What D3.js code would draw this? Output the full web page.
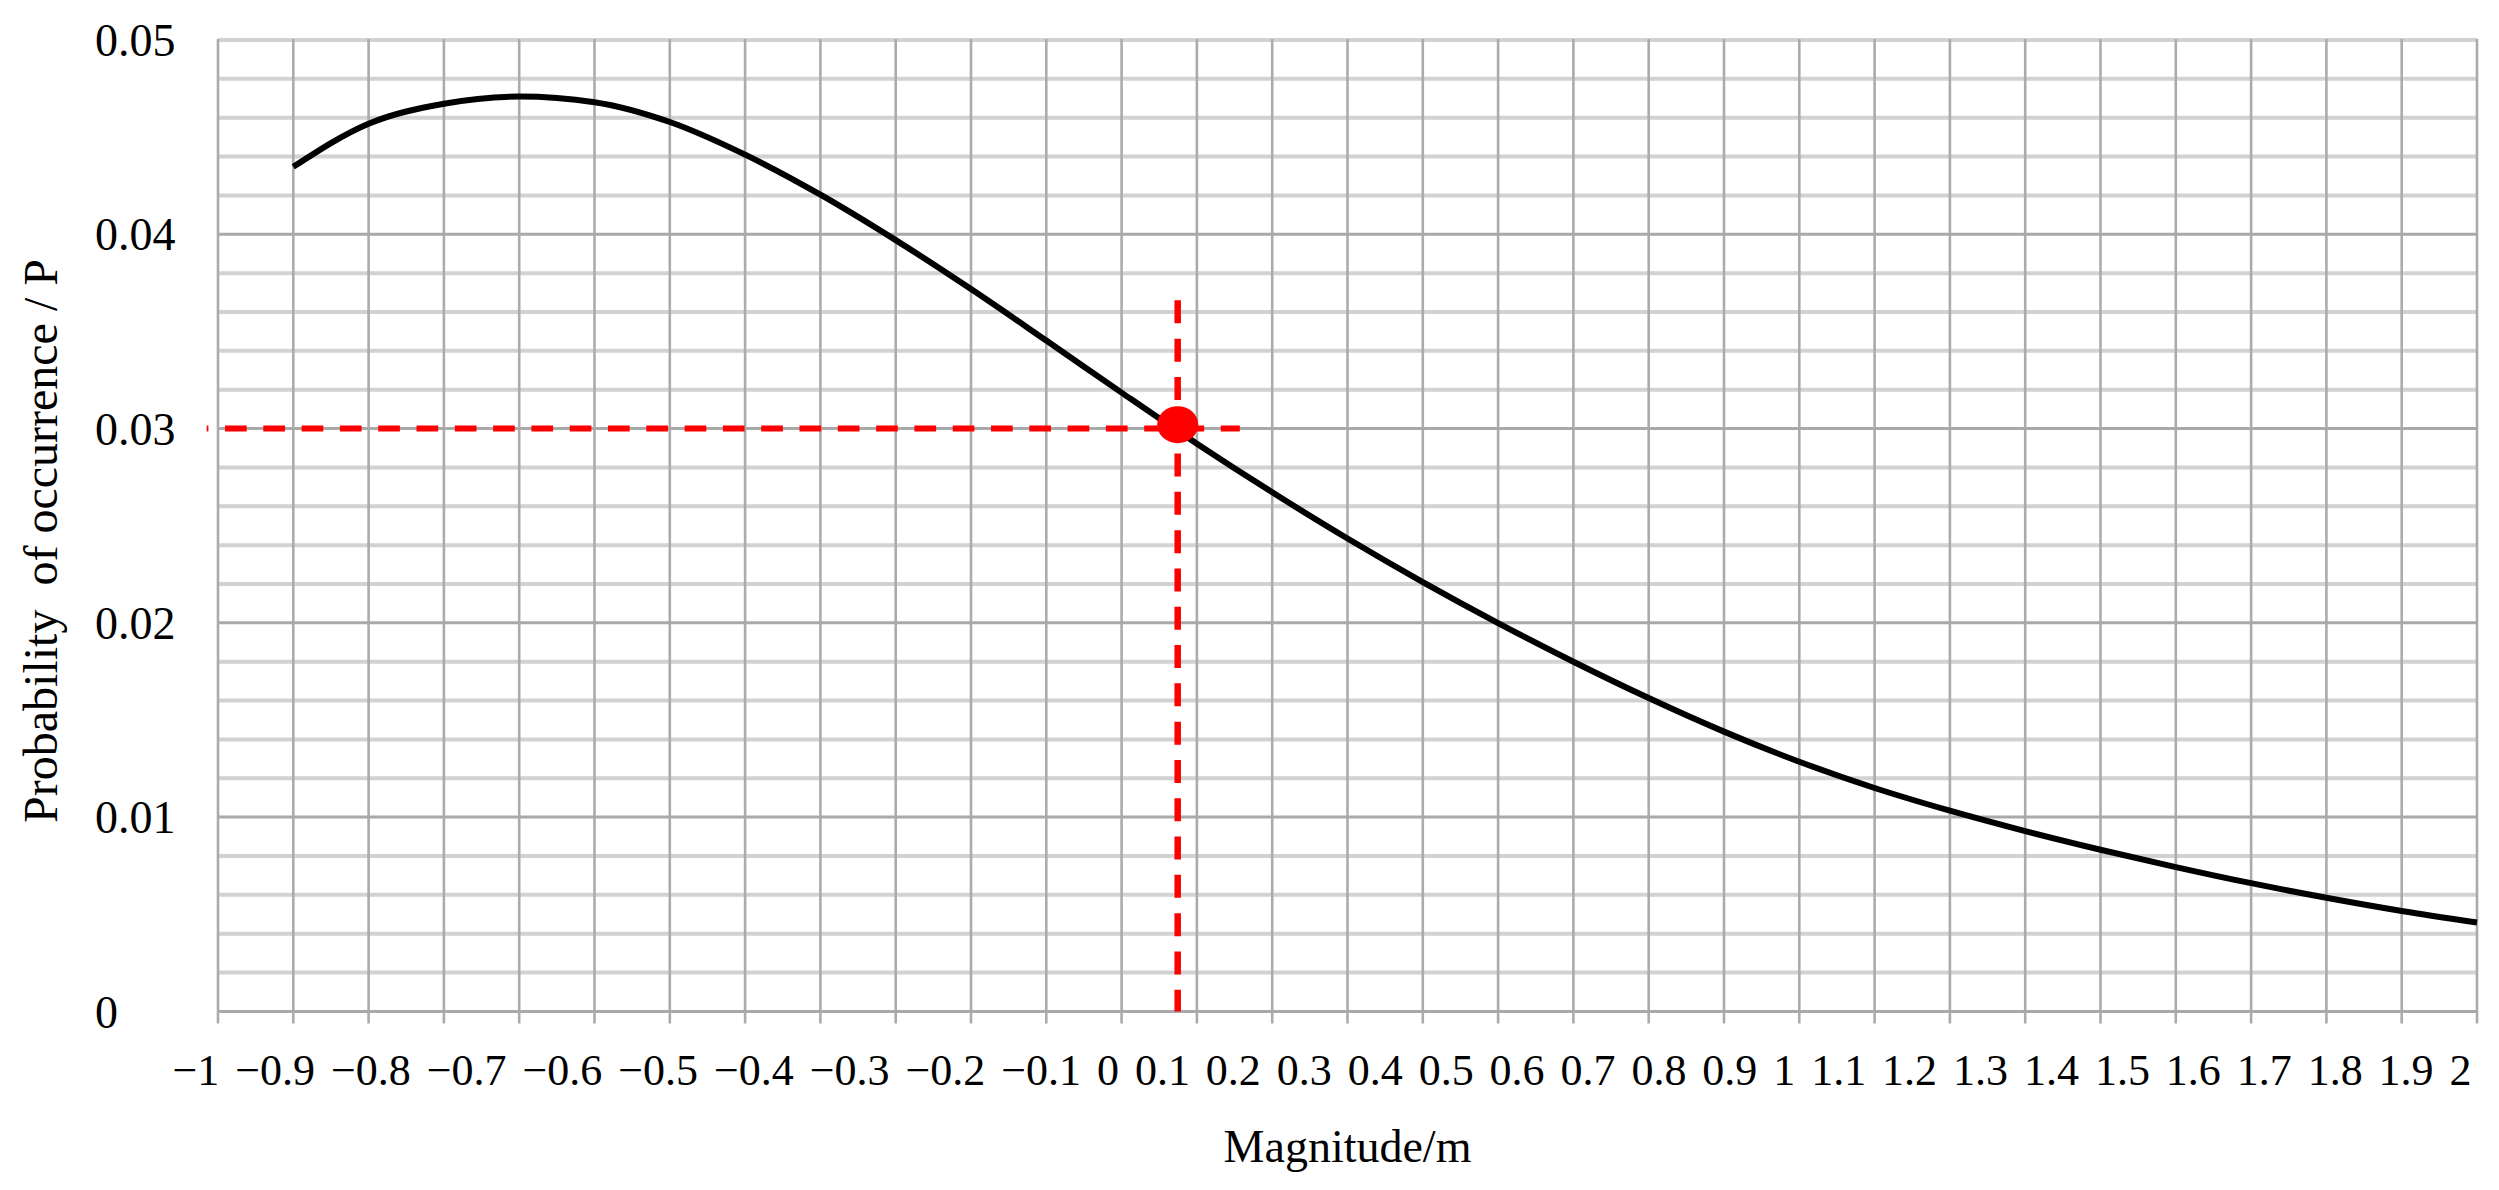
<!DOCTYPE html>
<html>
<head>
<meta charset="utf-8">
<script src="https://cdn.jsdelivr.net/npm/d3@7"></script>
<style>
html,body{margin:0;padding:0;background:#ffffff;}
svg{display:block;}
</style>
</head>
<body>
<svg id="chart" width="2499" height="1190"></svg>
<script>
// ---------------- data ----------------
const magnitude   = [-0.9,-0.8,-0.7,-0.6,-0.5,-0.4,-0.3,-0.2,-0.1,0.0,0.1,0.2,0.3,0.4,0.5,0.6,0.7,0.8,0.9,1.0,1.1,1.2,1.3,1.4,1.5,1.6,1.7,1.8,1.9,2.0];
const probability = [0.04347,0.04569,0.04672,0.04709,0.04680,0.04578,0.04410,0.04204,0.03970,0.03718,0.03453,0.03185,0.02922,0.02672,0.02434,0.02210,0.01999,0.01800,0.01613,0.01440,0.01285,0.01150,0.01033,0.00928,0.00832,0.00743,0.00660,0.00585,0.00517,0.00458];

const xTickValues = [-1,-0.9,-0.8,-0.7,-0.6,-0.5,-0.4,-0.3,-0.2,-0.1,0,0.1,0.2,0.3,0.4,0.5,0.6,0.7,0.8,0.9,1,1.1,1.2,1.3,1.4,1.5,1.6,1.7,1.8,1.9,2];
const xTickLabels = ["\u22121","\u22120.9","\u22120.8","\u22120.7","\u22120.6","\u22120.5","\u22120.4","\u22120.3","\u22120.2","\u22120.1","0","0.1","0.2","0.3","0.4","0.5","0.6","0.7","0.8","0.9","1","1.1","1.2","1.3","1.4","1.5","1.6","1.7","1.8","1.9","2"];
const yTickValues = [0,0.01,0.02,0.03,0.04,0.05];
const yTickLabels = ["0","0.01","0.02","0.03","0.04","0.05"];

const markerX = [0.2745];
const markerY = [0.0302];
const hGuideX = [-1.015, 0.357];
const hGuideY = [0.030, 0.030];
const vGuideX = [0.2745, 0.2745];
const vGuideY = [0.0366, 0];

const xTitle = "Magnitude/m";
const yTitle = "Probability  of occurrence / P";

// ---------------- layout ----------------
const svg = d3.select("#chart");
const FONT = "'Liberation Serif','Times New Roman',Times,serif";
const x = d3.scaleLinear().domain([-1, 2]).range([218, 2477]);
const y = d3.scaleLinear().domain([0, 0.05]).range([1011.4, 40]);

const grid = svg.append("g");
// minor horizontal grid
const minorY = y.ticks(25).filter(v => !yTickValues.slice(0,5).some(t => Math.abs(t - v) < 1e-9));
grid.selectAll("line.hminor").data(minorY).enter().append("line")
  .attr("x1", x(-1)).attr("x2", x(2))
  .attr("y1", d => y(d)).attr("y2", d => y(d))
  .attr("stroke", "#d2d2d2").attr("stroke-width", 4);
// vertical grid (with tick extension below axis)
grid.selectAll("line.v").data(xTickValues).enter().append("line")
  .attr("x1", d => x(d)).attr("x2", d => x(d))
  .attr("y1", y(0.05) - 1).attr("y2", y(0) + 12)
  .attr("stroke", "#ababab").attr("stroke-width", 2.6);
// major horizontal grid
grid.selectAll("line.hmajor").data(yTickValues.slice(0,5)).enter().append("line")
  .attr("x1", x(-1)).attr("x2", x(2))
  .attr("y1", d => y(d)).attr("y2", d => y(d))
  .attr("stroke", "#a9a9a9").attr("stroke-width", 3);

// ---------------- x axis labels (typeset as a flowing row) ----------------
const xAxis = d3.axisBottom(x).tickValues(xTickValues)
  .tickFormat((d, i) => xTickLabels[i]).tickSize(0);
const gx = svg.append("g").attr("transform", `translate(0,${y(0)})`).call(xAxis);
gx.select(".domain").remove();
const xt = gx.selectAll(".tick text")
  .attr("font-family", FONT).attr("font-size", 44).attr("fill", "#000")
  .attr("text-anchor", "start").attr("dy", 0).attr("y", 1085 - y(0));
const widths = xt.nodes().map(n => n.getComputedTextLength());
const startX = x(-1) - 46, endX = x(2) - 6;
const sumW = d3.sum(widths);
const gap = (endX - startX - sumW) / (widths.length - 1);
let cursor = startX;
xt.each(function(d, i) {
  d3.select(this).attr("x", cursor - x(d));
  cursor += widths[i] + gap;
});

// ---------------- y axis labels ----------------
const yAxis = d3.axisLeft(y).tickValues(yTickValues)
  .tickFormat((d, i) => yTickLabels[i]).tickSize(0);
const gy = svg.append("g").attr("transform", `translate(${x(-1)},0)`).call(yAxis);
gy.select(".domain").remove();
gy.selectAll(".tick text")
  .attr("font-family", FONT).attr("font-size", 46).attr("fill", "#000")
  .attr("text-anchor", "start").attr("x", 95 - x(-1)).attr("dy", "0.34em");

// ---------------- titles ----------------
svg.append("text")
  .attr("x", (x(-1) + x(2)) / 2).attr("y", 1162)
  .attr("text-anchor", "middle").attr("font-family", FONT).attr("font-size", 46)
  .text(xTitle);
svg.append("text")
  .attr("transform", "translate(57,541) rotate(-90)")
  .attr("text-anchor", "middle").attr("font-family", FONT).attr("font-size", 48)
  .style("white-space", "pre")
  .text(yTitle);

// ---------------- curve ----------------
const pts = magnitude.map((m, i) => [m, probability[i]]);
svg.append("path")
  .datum(pts)
  .attr("fill", "none").attr("stroke", "#000").attr("stroke-width", 6)
  .attr("stroke-linejoin", "round")
  .attr("d", d3.line().x(d => x(d[0])).y(d => y(d[1])).curve(d3.curveMonotoneX));

// ---------------- red guides & marker ----------------
svg.append("line")
  .attr("x1", x(hGuideX[0])).attr("x2", x(hGuideX[1]))
  .attr("y1", y(hGuideY[0])).attr("y2", y(hGuideY[1]))
  .attr("stroke", "#ff0000").attr("stroke-width", 6)
  .attr("stroke-dasharray", "21.7,16.6").attr("stroke-dashoffset", 20);
svg.append("line")
  .attr("x1", x(vGuideX[0])).attr("x2", x(vGuideX[1]))
  .attr("y1", y(vGuideY[0])).attr("y2", y(vGuideY[1]))
  .attr("stroke", "#ff0000").attr("stroke-width", 6.5)
  .attr("stroke-dasharray", "23,15.3");
svg.selectAll("ellipse.marker").data(markerX).enter().append("ellipse")
  .attr("cx", d => x(d)).attr("cy", (d, i) => y(markerY[i]))
  .attr("rx", 20.5).attr("ry", 18.5)
  .attr("fill", "#ff0000");
</script>
</body>
</html>
